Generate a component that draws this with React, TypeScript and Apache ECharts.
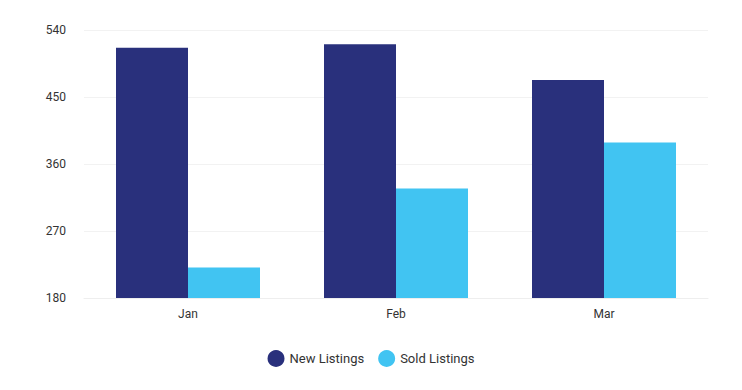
import React, { useEffect, useRef } from "react";
import * as echarts from "echarts";

const categories = ["Jan", "Feb", "Mar"];
const newListings = [516, 521, 473];
const soldListings = [221, 327, 389];
const yMin = 180;
const yMax = 540;
const yInterval = 90;

export default function App() {
  const ref = useRef<HTMLDivElement>(null);
  useEffect(() => {
    if (!ref.current) return;
    const chart = echarts.init(ref.current, null, { renderer: "svg" });
    chart.setOption({
      animation: false,
      textStyle: { fontFamily: "Roboto" },
      grid: { left: 84, right: 34, top: 30, bottom: 92 },
      legend: {
        bottom: 18,
        left: "center",
        icon: "circle",
        itemWidth: 17,
        itemHeight: 17,
        itemGap: 14,
        textStyle: { fontSize: 13, color: "#333", fontFamily: "Roboto" },
        data: ["New Listings", "Sold Listings"],
      },
      xAxis: {
        type: "category",
        data: categories,
        axisLine: { lineStyle: { color: "#eeeeee" } },
        axisTick: { show: false },
        axisLabel: { color: "#333", fontSize: 12, margin: 10 },
      },
      yAxis: {
        type: "value",
        min: yMin,
        max: yMax,
        interval: yInterval,
        axisLine: { show: false },
        axisTick: { show: false },
        splitLine: { lineStyle: { color: "#f2f2f2" } },
        axisLabel: { color: "#333", fontSize: 12, margin: 18 },
      },
      series: [
        {
          name: "New Listings",
          type: "bar",
          data: newListings,
          barWidth: 72,
          barGap: "0%",
          itemStyle: { color: "#29307C" },
        },
        {
          name: "Sold Listings",
          type: "bar",
          data: soldListings,
          barWidth: 72,
          itemStyle: { color: "#41C4F2" },
        },
      ],
    });
    return () => chart.dispose();
  }, []);
  return (
    <div
      ref={ref}
      style={{ position: "absolute", left: 0, top: 0, width: 742, height: 390 }}
    />
  );
}
